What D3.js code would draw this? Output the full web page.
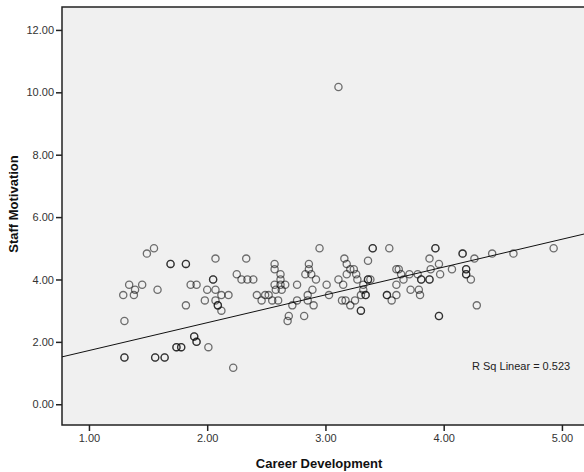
<!DOCTYPE html>
<html>
<head>
<meta charset="utf-8">
<script src="https://cdn.jsdelivr.net/npm/d3@7"></script>
<style>
  html, body { margin: 0; padding: 0; background: #fff; }
  svg { display: block; }
</style>
</head>
<body>
<svg id="chart" width="584" height="472"></svg>
<script>
// Career development score per respondent (x)
const careerDev = [
  1.49, 1.55, 1.69, 1.69, 1.82, 1.82, 2.07, 1.34, 1.39, 1.45, 1.29, 1.38, 1.58, 1.86, 1.91,
  1.82, 1.30, 2.05, 2.05, 2.00, 2.07, 1.98, 2.07, 2.09, 2.09, 2.12, 1.30, 1.30, 1.56, 1.56,
  1.64, 1.64, 1.74, 1.74, 1.78, 1.78, 1.89, 1.89, 1.91, 1.91, 2.01,
  2.33, 2.95, 2.25, 2.29, 2.34, 2.39, 2.12, 2.18, 2.57, 2.57, 2.62, 2.62, 2.57, 2.62, 2.66,
  2.58, 2.63, 2.42, 2.49, 2.52, 2.46, 2.55, 2.60, 2.76, 2.86, 2.86, 2.83, 2.88, 2.92, 2.89,
  2.85, 2.85, 2.76, 2.72, 2.90, 2.69, 2.68, 2.82, 3.01, 3.03, 2.22,
  3.40, 3.40, 3.54, 3.93, 3.93, 3.16, 3.36, 3.18, 3.21, 3.24, 3.18, 3.26, 3.27, 3.11, 3.15,
  3.36, 3.36, 3.38, 3.32, 3.32, 3.30, 3.34, 3.34, 3.14, 3.17, 3.25, 3.21, 3.30, 3.30,
  3.52, 3.52, 3.56, 3.60, 3.60, 3.60, 3.62, 3.64, 3.66, 3.71, 3.78, 3.81, 3.81, 3.88, 3.88,
  3.72, 3.79, 3.80, 3.88, 3.89, 3.96, 3.97, 3.96, 3.96,
  4.07, 4.16, 4.16, 4.26, 4.41, 4.59, 4.93, 4.19, 4.19, 4.19, 4.19, 4.23, 4.28,
  3.11
]
// Staff motivation score per respondent (y), same order
const staffMot = [
  4.83, 5.00, 4.50, 4.50, 4.50, 4.50, 4.67, 3.83, 3.67, 3.83, 3.50, 3.50, 3.67, 3.83, 3.83,
  3.17, 2.67, 4.00, 4.00, 3.67, 3.67, 3.33, 3.33, 3.17, 3.17, 3.00, 1.50, 1.50, 1.50, 1.50,
  1.50, 1.50, 1.83, 1.83, 1.83, 1.83, 2.17, 2.17, 2.00, 2.00, 1.83,
  4.67, 5.00, 4.17, 4.00, 4.00, 4.00, 3.50, 3.50, 4.50, 4.33, 4.17, 4.00, 3.83, 3.83, 3.83,
  3.67, 3.67, 3.50, 3.50, 3.50, 3.33, 3.33, 3.33, 3.83, 4.50, 4.33, 4.17, 4.17, 4.00, 3.67,
  3.50, 3.33, 3.33, 3.17, 3.17, 2.83, 2.67, 2.83, 3.83, 3.50, 1.17,
  5.00, 5.00, 5.00, 5.00, 5.00, 4.67, 4.60, 4.50, 4.33, 4.33, 4.17, 4.17, 4.00, 4.00, 3.83,
  4.00, 4.00, 4.00, 3.83, 3.67, 3.50, 3.50, 3.50, 3.33, 3.33, 3.33, 3.17, 3.00, 3.00,
  3.50, 3.50, 3.33, 3.50, 3.83, 4.33, 4.33, 4.17, 4.00, 4.17, 4.17, 4.00, 4.00, 4.00, 4.00,
  3.67, 3.67, 3.50, 4.67, 4.33, 4.50, 4.17, 2.83, 2.83,
  4.33, 4.83, 4.83, 4.67, 4.83, 4.83, 5.00, 4.33, 4.33, 4.17, 4.17, 4.00, 3.17,
  10.17
]

// Fit line as drawn by SPSS: intercept and slope
const fitIntercept = 0.83
const fitSlope = 0.892
const rSqLabel = 'R Sq Linear = 0.523'

const xTicks = [1, 2, 3, 4, 5]
const yTicks = [0, 2, 4, 6, 8, 10, 12]
const xTitle = 'Career Development'
const yTitle = 'Staff Motivation'

const svg = d3.select('#chart')
const m = { left: 62, top: 7, right: 600, bottom: 425 }

const x = d3.scaleLinear().domain([0.772, 5.322]).range([m.left, m.right])
const y = d3.scaleLinear().domain([-0.665, 12.735]).range([m.bottom, m.top])

svg.append('rect')
  .attr('x', m.left).attr('y', m.top)
  .attr('width', m.right - m.left).attr('height', m.bottom - m.top)
  .attr('fill', '#f0f0f0')
  .attr('stroke', '#222')
  .attr('stroke-width', 1.5)

// clip so the fit line stays inside the frame
svg.append('clipPath').attr('id', 'plotClip')
  .append('rect')
  .attr('x', m.left).attr('y', m.top)
  .attr('width', m.right - m.left).attr('height', m.bottom - m.top)

const plot = svg.append('g').attr('clip-path', 'url(#plotClip)')

const pts = careerDev.map((v, i) => ({ x: v, y: staffMot[i] }))
plot.append('g')
  .selectAll('circle')
  .data(pts)
  .join('circle')
  .attr('cx', d => x(d.x))
  .attr('cy', d => y(d.y))
  .attr('r', 3.6)
  .attr('fill', 'none')
  .attr('stroke', '#000')
  .attr('stroke-opacity', 0.55)
  .attr('stroke-width', 1.3)

const xd = x.domain()
plot.append('line')
  .attr('x1', x(xd[0])).attr('y1', y(fitIntercept + fitSlope * xd[0]))
  .attr('x2', x(xd[1])).attr('y2', y(fitIntercept + fitSlope * xd[1]))
  .attr('stroke', '#111')
  .attr('stroke-width', 1)

const font = '"Liberation Sans", Arial, sans-serif'

const xAxis = svg.append('g')
  .attr('transform', `translate(0,${m.bottom})`)
  .call(d3.axisBottom(x).tickValues(xTicks).tickFormat(d3.format('.2f')).tickSize(6).tickPadding(3))
const yAxis = svg.append('g')
  .attr('transform', `translate(${m.left},0)`)
  .call(d3.axisLeft(y).tickValues(yTicks).tickFormat(d3.format('.2f')).tickSize(6).tickPadding(2))

for (const ax of [xAxis, yAxis]) {
  ax.select('.domain').remove()
  ax.selectAll('line').attr('stroke', '#222').attr('stroke-width', 1.5)
  ax.selectAll('text').attr('font-family', font).attr('font-size', 11).attr('fill', '#333')
}

svg.append('text')
  .attr('x', 472).attr('y', 370)
  .attr('font-family', font).attr('font-size', 11).attr('fill', '#222')
  .text(rSqLabel)

svg.append('text')
  .attr('x', 319).attr('y', 468)
  .attr('text-anchor', 'middle')
  .attr('font-family', font).attr('font-size', 13).attr('font-weight', 'bold')
  .attr('fill', '#111')
  .text(xTitle)

svg.append('text')
  .attr('transform', 'translate(18,204) rotate(-90)')
  .attr('text-anchor', 'middle')
  .attr('font-family', font).attr('font-size', 13).attr('font-weight', 'bold')
  .attr('fill', '#111')
  .text(yTitle)
</script>
</body>
</html>
